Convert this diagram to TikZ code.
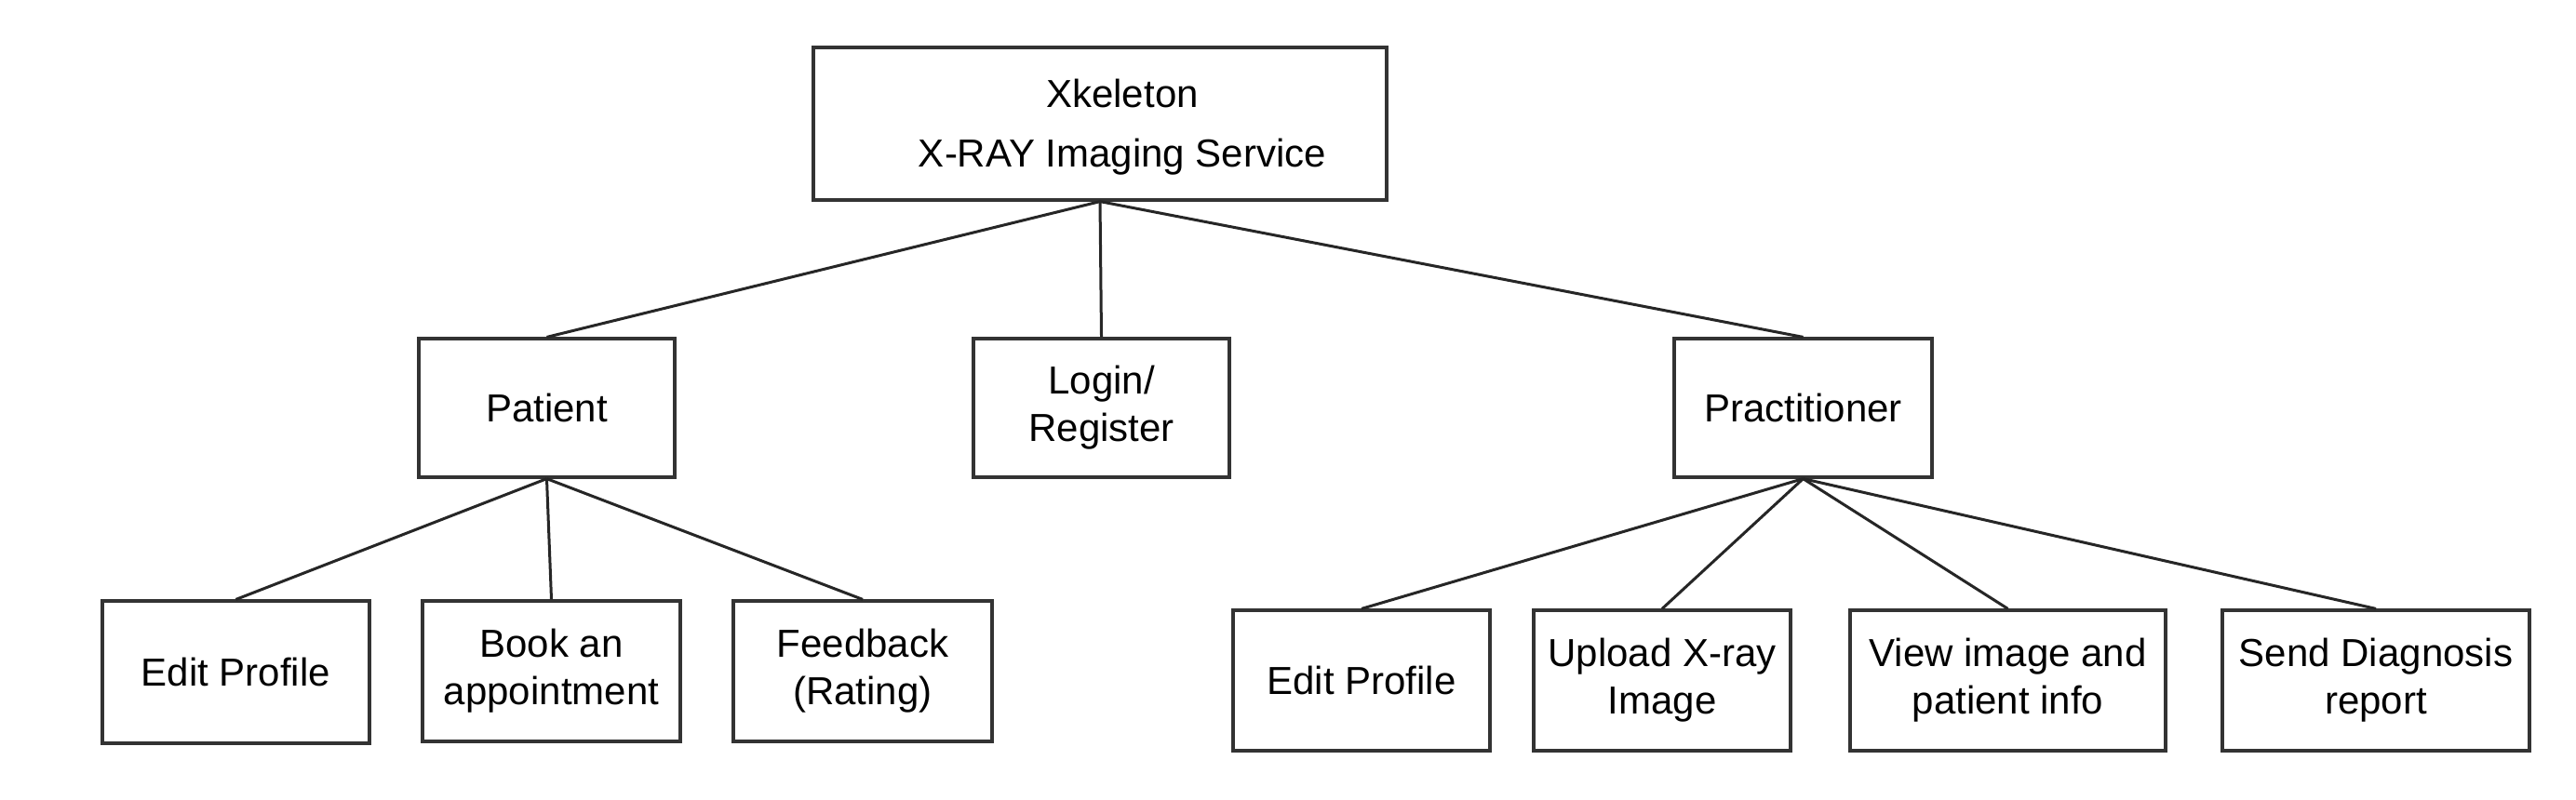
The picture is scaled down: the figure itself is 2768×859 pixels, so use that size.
\documentclass[tikz,border=0pt]{standalone}
\usepackage{fontspec}
\setmainfont{Liberation Sans}
\begin{document}
\begin{tikzpicture}[x=0.25pt,y=-0.25pt,
  box/.style={draw=black!80,line width=0.8pt,inner sep=0pt,align=center,font=\fontsize{10.5}{12.8}\selectfont},
  link/.style={draw=black!85,line width=0.75pt}]
\useasboundingbox (0,0) rectangle (2768,859);
\fill[white] (0,0) rectangle (2768,859);
% top
\node[box,minimum width=154pt,minimum height=41pt] (top) at (1182,133) {};
\node[align=center,inner sep=0pt,font=\fontsize{10.5}{16}\selectfont] (toptext) at ([xshift=6pt,yshift=-1pt]top.center) {Xkeleton\\X-RAY Imaging Service};
% level 2
\node[box,minimum width=68.75pt,minimum height=37.25pt] (patient) at (587.5,438.5) {Patient};
\node[box,minimum width=68.75pt,minimum height=37.25pt] (login) at (1183.5,438.5) {Login/\\Register};
\node[box,minimum width=69.25pt,minimum height=37.25pt] (prac) at (1937.5,438.5) {Practitioner};
% level 3 left
\node[box,minimum width=71.75pt,minimum height=38.25pt] (editl) at (253.5,722.5) {Edit Profile};
\node[box,minimum width=69.25pt,minimum height=37.75pt] (book) at (592.5,721.5) {Book an\\appointment};
\node[box,minimum width=69.5pt,minimum height=37.75pt] (feed) at (927,721.5) {Feedback\\(Rating)};
% level 3 right
\node[box,minimum width=69pt,minimum height=37.75pt] (editr) at (1463,731.5) {Edit Profile};
\node[box,minimum width=69pt,minimum height=37.75pt] (upload) at (1786,731.5) {Upload X-ray\\Image};
\node[box,minimum width=84.75pt,minimum height=37.75pt] (view) at (2157.5,731.5) {View image and\\patient info};
\node[box,minimum width=82.5pt,minimum height=37.75pt] (send) at (2553,731.5) {Send Diagnosis\\report};
% connectors
\draw[link] (top.south) -- (patient.north);
\draw[link] (top.south) -- (login.north);
\draw[link] (top.south) -- (prac.north);
\draw[link] (patient.south) -- (editl.north);
\draw[link] (patient.south) -- (book.north);
\draw[link] (patient.south) -- (feed.north);
\draw[link] (prac.south) -- (editr.north);
\draw[link] (prac.south) -- (upload.north);
\draw[link] (prac.south) -- (view.north);
\draw[link] (prac.south) -- (send.north);
\end{tikzpicture}
\end{document}
